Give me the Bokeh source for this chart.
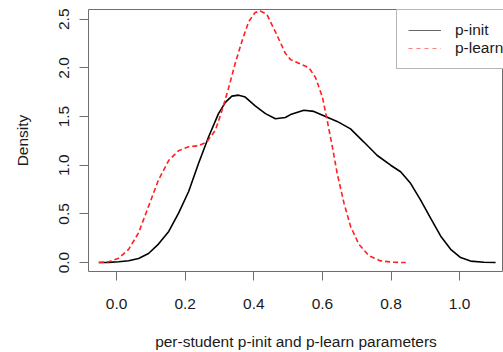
from bokeh.plotting import figure
from bokeh.models import Range1d, FixedTicker, PrintfTickFormatter, Legend, LegendItem
from bokeh.embed import file_html
from bokeh.resources import INLINE

# p-init density
init_x = [-0.052, -0.023, 0.006, 0.035, 0.064, 0.093, 0.122, 0.152, 0.181, 0.21, 0.239, 0.268,
          0.297, 0.317, 0.336, 0.356, 0.375, 0.404, 0.434, 0.463, 0.492, 0.507, 0.546, 0.575,
          0.604, 0.643, 0.682, 0.721, 0.760, 0.799, 0.828, 0.857, 0.886, 0.915, 0.945, 0.974,
          1.003, 1.032, 1.071, 1.105]
init_y = [0.0, 0.002, 0.008, 0.018, 0.042, 0.093, 0.19, 0.32, 0.51, 0.73, 1.02, 1.29,
          1.53, 1.645, 1.71, 1.72, 1.70, 1.61, 1.53, 1.478, 1.49, 1.52, 1.565, 1.553,
          1.509, 1.45, 1.373, 1.238, 1.10, 1.0, 0.933, 0.814, 0.644, 0.458, 0.271, 0.136,
          0.051, 0.015, 0.003, 0.0]

# p-learn density
learn_x = [-0.052, -0.023, 0.006, 0.035, 0.064, 0.093, 0.122, 0.152, 0.181, 0.21, 0.239, 0.263,
           0.288, 0.307, 0.327, 0.346, 0.365, 0.385, 0.404, 0.419, 0.438, 0.463, 0.492, 0.507,
           0.536, 0.561, 0.58, 0.60, 0.614, 0.629, 0.643, 0.663, 0.682, 0.706, 0.736, 0.77,
           0.808, 0.843]
learn_y = [0.0, 0.008, 0.045, 0.136, 0.305, 0.577, 0.848, 1.05, 1.15, 1.19, 1.20, 1.24,
           1.36, 1.56, 1.80, 2.05, 2.27, 2.475, 2.57, 2.584, 2.55, 2.37, 2.15, 2.085,
           2.04, 2.0, 1.90, 1.70, 1.46, 1.19, 0.916, 0.61, 0.373, 0.19, 0.068, 0.017,
           0.003, 0.0]

x_ticks = [0.0, 0.2, 0.4, 0.6, 0.8, 1.0]
y_ticks = [0.0, 0.5, 1.0, 1.5, 2.0, 2.5]
series_names = ["p-init", "p-learn"]

FONT = "Liberation Sans"
FS = "15.5px"
GRAY = "#6e6e6e"
TXT = "#1a1a1a"

p = figure(width=503, height=352, output_backend="svg", toolbar_location=None,
           x_range=Range1d(-0.082, 1.128), y_range=Range1d(-0.092, 2.60),
           min_border_left=88, min_border_right=0, min_border_top=9, min_border_bottom=78)
p.title.visible = False
p.grid.visible = False
p.outline_line_color = GRAY
p.outline_line_width = 1
p.background_fill_color = "white"
p.border_fill_color = "white"

p.line(init_x, init_y, line_color="black", line_width=1.6)
p.line(learn_x, learn_y, line_color="#ff2020", line_width=1.6, line_dash="5 3")

# hidden legend proxies (thin lines, as in the reference key)
k1 = p.line(init_x, init_y, line_color="#666666", line_width=1, visible=False)
k2 = p.line(learn_x, learn_y, line_color="#ff8080", line_width=1.2, line_dash="4 4", visible=False)

for ax in (p.xaxis[0], p.yaxis[0]):
    ax.axis_line_color = None
    ax.major_tick_line_color = GRAY
    ax.major_tick_out = 9
    ax.major_tick_in = 0
    ax.minor_tick_line_color = None
    ax.major_label_text_font = FONT
    ax.major_label_text_font_size = FS
    ax.major_label_text_color = TXT
    ax.axis_label_text_font = FONT
    ax.axis_label_text_font_size = FS
    ax.axis_label_text_font_style = "normal"
    ax.axis_label_text_color = TXT

p.xaxis[0].ticker = FixedTicker(ticks=x_ticks)
p.yaxis[0].ticker = FixedTicker(ticks=y_ticks)
p.xaxis[0].formatter = PrintfTickFormatter(format="%.1f")
p.yaxis[0].formatter = PrintfTickFormatter(format="%.1f")
p.yaxis[0].major_label_orientation = "vertical"
p.xaxis[0].major_label_standoff = 18
p.yaxis[0].major_label_standoff = 10
p.xaxis[0].axis_label = "per-student p-init and p-learn parameters"
p.yaxis[0].axis_label = "Density"
p.xaxis[0].axis_label_standoff = 21
p.yaxis[0].axis_label_standoff = 26

legend = Legend(items=[LegendItem(label=series_names[0], renderers=[k1]),
                       LegendItem(label=series_names[1], renderers=[k2])],
                location=(308, 202), orientation="vertical")
legend.border_line_color = GRAY
legend.border_line_width = 1
legend.background_fill_color = "white"
legend.background_fill_alpha = 1.0
legend.inactive_fill_alpha = 0.0
legend.label_text_font = FONT
legend.label_text_font_size = FS
legend.label_text_color = TXT
legend.padding = 11
legend.margin = 0
legend.spacing = 0
legend.label_height = 16
legend.glyph_height = 16
legend.glyph_width = 33
legend.label_standoff = 14
p.add_layout(legend, "center")

open("out.html", "w").write(file_html(p, INLINE))
